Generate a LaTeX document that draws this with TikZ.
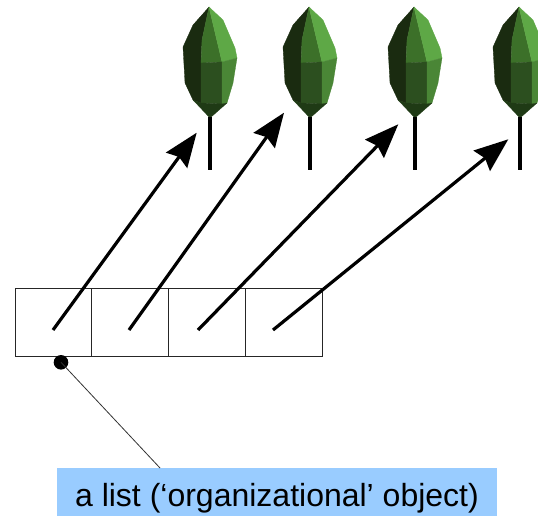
\documentclass[tikz,border=0pt]{standalone}
\usepackage{fontspec}
\setmainfont{Liberation Sans}
\usetikzlibrary{arrows.meta}
\definecolor{leafA}{HTML}{1A2B10}
\definecolor{leafB}{HTML}{3C7029}
\definecolor{leafC}{HTML}{5EA846}
\definecolor{leafD}{HTML}{2C4F1F}
\definecolor{leafE}{HTML}{4A8636}
\definecolor{leafF}{HTML}{1F3A15}
\definecolor{labelblue}{HTML}{99CCFF}
\tikzset{
  facet/.style={fill=#1, draw=#1, line width=0.3pt, line join=round},
  leaftree/.pic={
    \coordinate (T) at (-1,7);
    \coordinate (UR) at (13,20);
    \coordinate (R1) at (25,48);
    \coordinate (R2) at (27,58);
    \coordinate (R3) at (23,83);
    \coordinate (R4) at (17,103);
    \coordinate (B) at (0,118);
    \coordinate (L4) at (-17,100);
    \coordinate (L3) at (-25,83);
    \coordinate (L2) at (-27,47);
    \coordinate (L1) at (-17,25);
    \coordinate (M0) at (-8,40);
    \coordinate (M1) at (-9,63);
    \coordinate (M2) at (12,62);
    \coordinate (M3) at (-9,103);
    \coordinate (M4) at (12,104);
    \path[facet=leafA] (T) -- (L1) -- (L2) -- (L3) -- (L4) -- (M3) -- (M1) -- (M0) -- cycle;
    \path[facet=leafB] (T) -- (M0) -- (M1) -- (M2) -- cycle;
    \path[facet=leafC] (T) -- (UR) -- (R1) -- (R2) -- (M2) -- cycle;
    \path[facet=leafD] (M1) -- (M2) -- (M4) -- (M3) -- cycle;
    \path[facet=leafE] (M2) -- (R2) -- (R3) -- (R4) -- (M4) -- cycle;
    \path[facet=leafF] (M3) -- (M4) -- (R4) -- (B) -- (L4) -- cycle;
    \draw[line width=3.2pt] (0,117) -- (0,170);
  },
  cell/.style={draw=black!85, line width=0.9pt, minimum width=76.8pt, minimum height=68.4pt, inner sep=0pt},
  ptr/.style={line width=3.2pt, -{Stealth[length=34pt, width=26pt, inset=4pt]}},
  labelbox/.style={fill=labelblue, minimum width=440pt, inner xsep=0pt, inner ysep=0pt,
    text height=38.5pt, text depth=9.5pt, font=\fontsize{32pt}{36pt}\selectfont},
  leader/.style={draw=black!80, line width=0.8pt}
}
\begin{document}
\begin{tikzpicture}[x=1pt, y=-1pt]
\useasboundingbox (0,0) rectangle (538,516);
\clip (0,0) rectangle (538,516);
% trees
\pic at (210,0) {leaftree};
\pic at (310,0) {leaftree};
\pic at (415,0) {leaftree};
\pic at (520,0) {leaftree};
% list cells
\node[cell] (c1) at (53.4,322.5) {};
\node[cell] (c2) at (130.2,322.5) {};
\node[cell] (c3) at (207,322.5) {};
\node[cell] (c4) at (283.8,322.5) {};
% pointer coordinates
\coordinate (s1) at (53,330);
\coordinate (s2) at (129,330);
\coordinate (s3) at (198,330);
\coordinate (s4) at (273,330);
\coordinate (t1) at (196.7,132.7);
\coordinate (t2) at (284,112.7);
\coordinate (t3) at (398.3,124.3);
\coordinate (t4) at (508.3,139.3);
\draw[ptr] (s1) -- (t1);
\draw[ptr] (s2) -- (t2);
\draw[ptr] (s3) -- (t3);
\draw[ptr] (s4) -- (t4);
% label
\node[labelbox] (lab) at (277,492) {a list (‘organizational’ object)};
\coordinate (leadend) at (160,468);
\node[circle, fill=black, minimum size=14.6pt, inner sep=0pt] (dot) at (61,362.3) {};
\draw[leader] (dot.center) -- (leadend);
\end{tikzpicture}
\end{document}
